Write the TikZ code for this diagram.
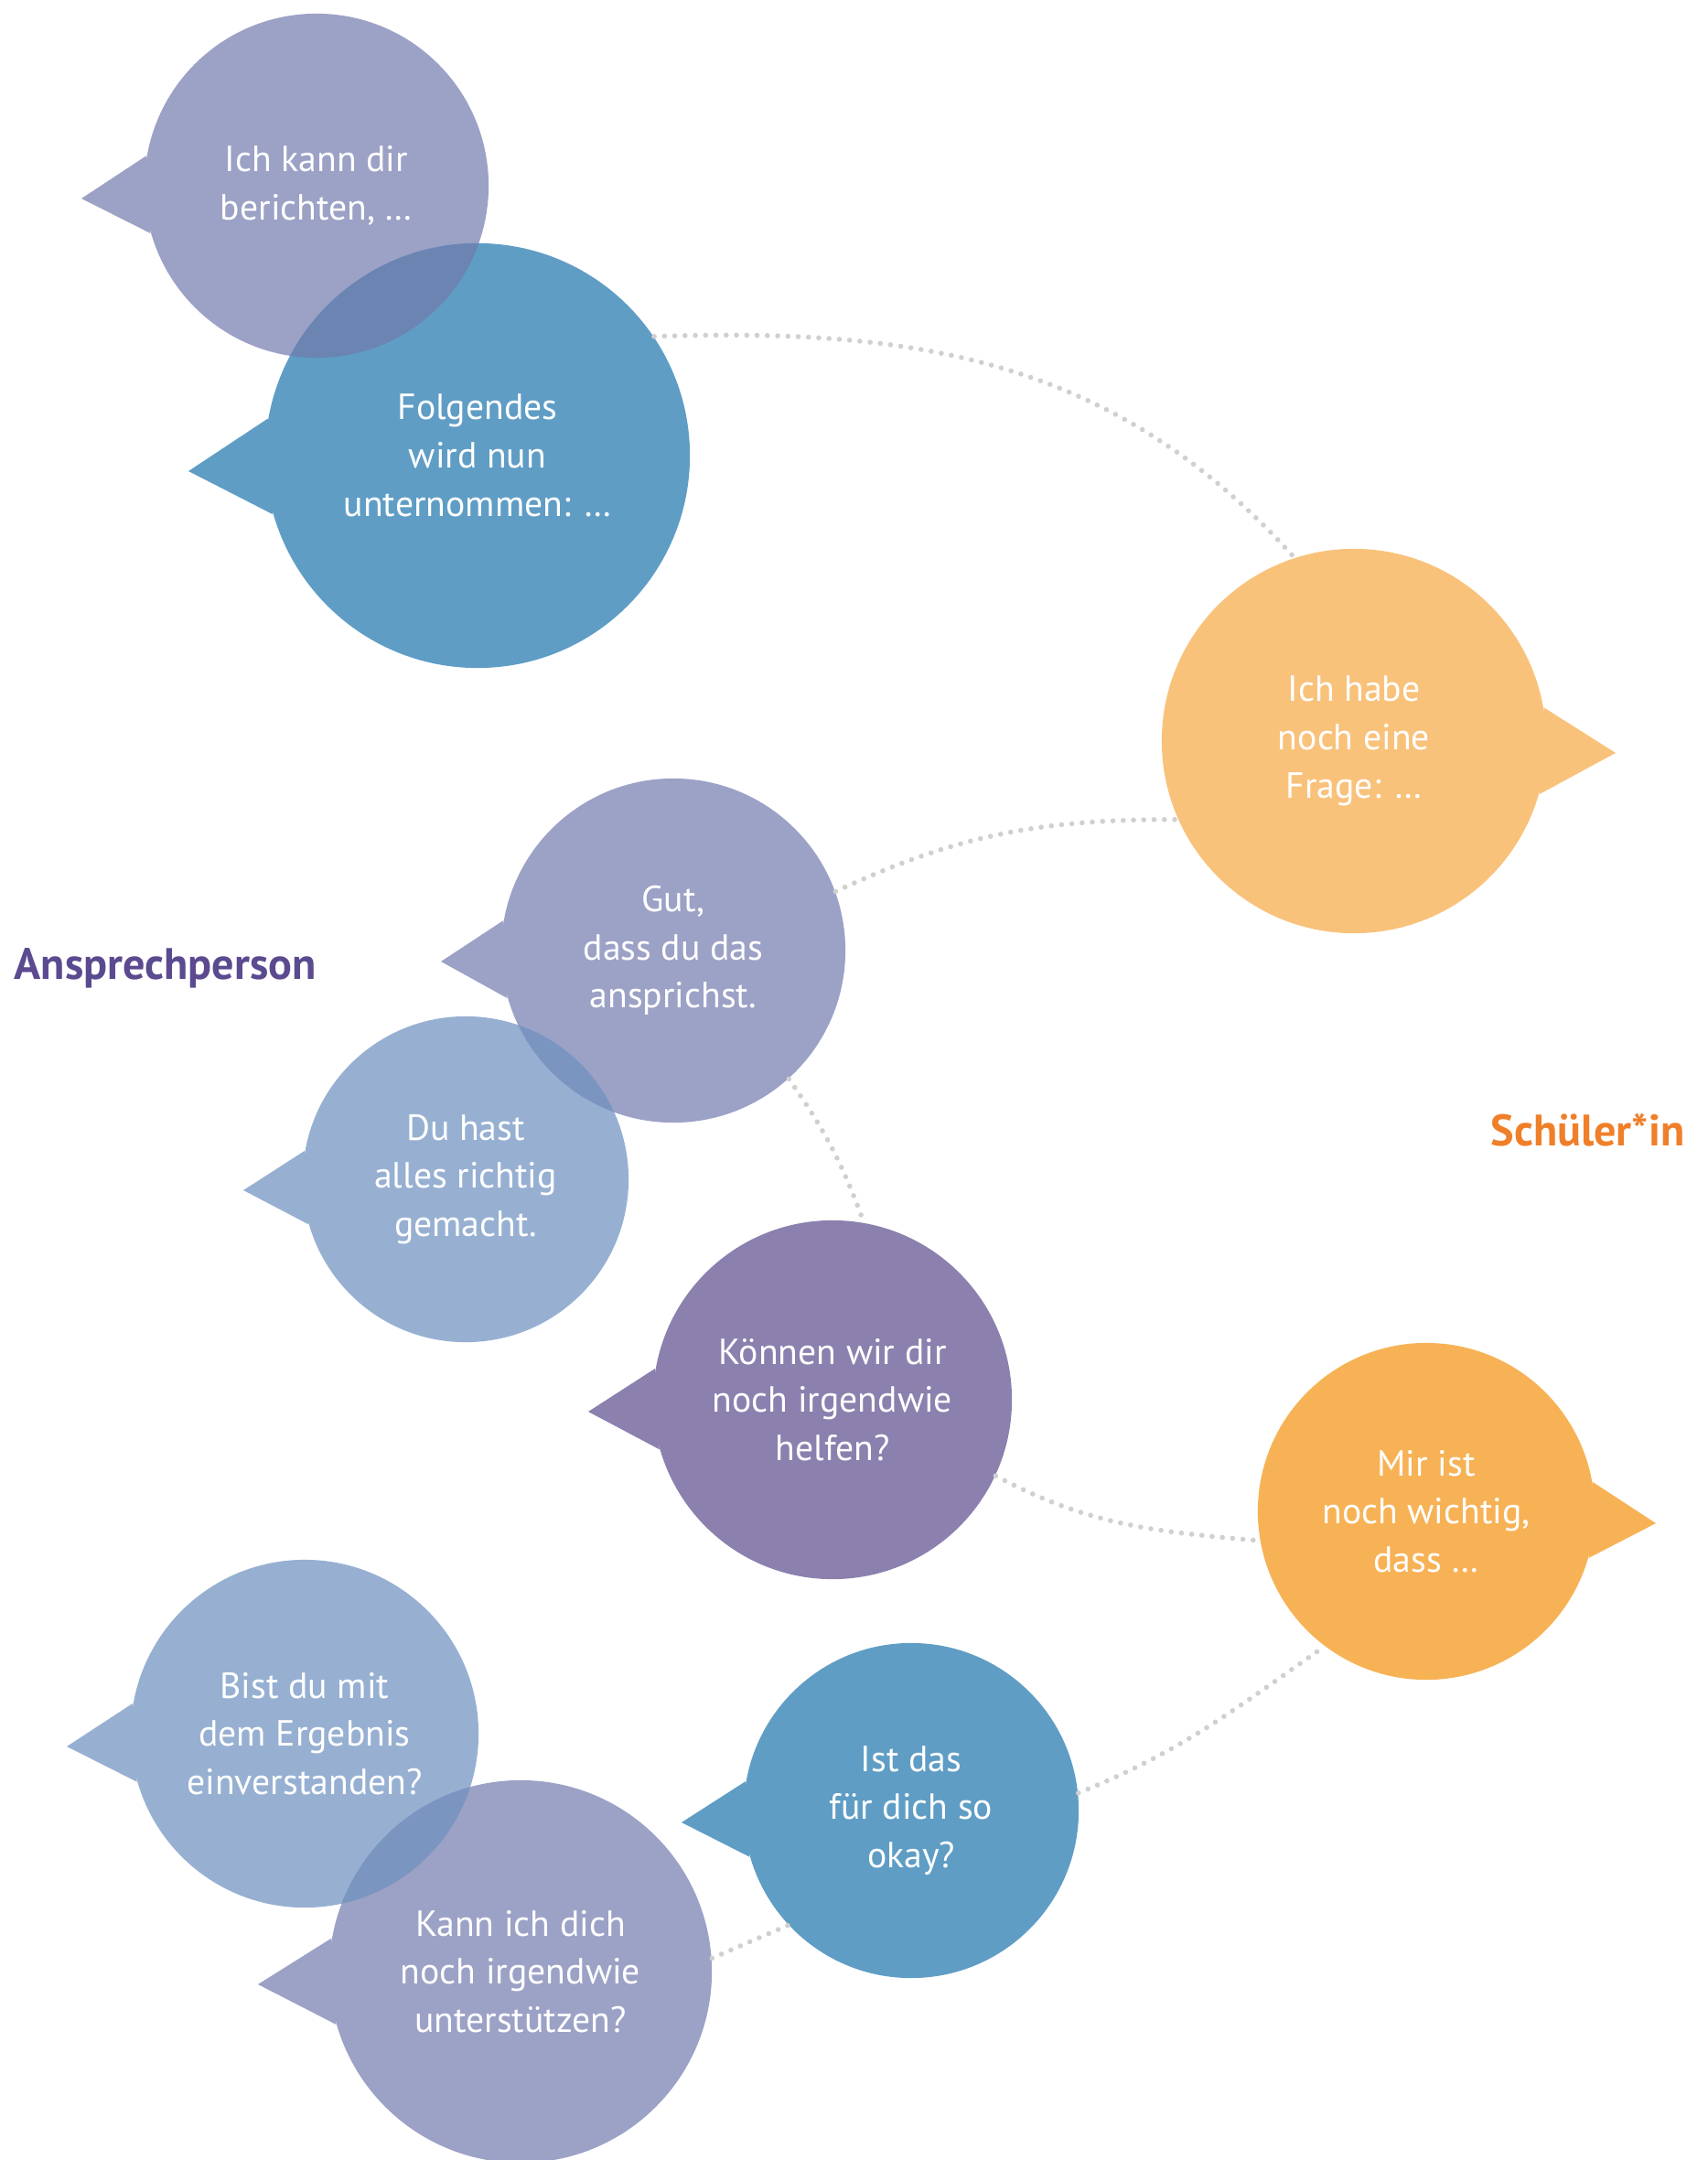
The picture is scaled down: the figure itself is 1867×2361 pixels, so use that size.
\documentclass[tikz,border=0pt]{standalone}
\usepackage{fontspec}
\setmainfont{PT Sans}
\usepackage{xcolor}
\usepackage{tikz}

\definecolor{lavendel}{HTML}{9CA1C6}
\definecolor{blau}{HTML}{5F9DC5}
\definecolor{hellblau}{HTML}{97B0D2}
\definecolor{lila}{HTML}{8B80AE}
\definecolor{hellorange}{HTML}{F9C27B}
\definecolor{orange}{HTML}{F7B256}
\definecolor{ueberA}{HTML}{6C84B2}
\definecolor{ueberB}{HTML}{7A95C0}
\definecolor{punktgrau}{HTML}{D0D0D0}
\definecolor{titellila}{HTML}{5B4A8F}
\definecolor{titelorange}{HTML}{F07F2A}

\begin{document}
\begin{tikzpicture}[x=0.01cm, y=-0.01cm,
    blase/.style={circle, inner sep=0pt, text=white, align=center,
                  font=\fontsize{11.3}{15}\selectfont},
    punkte/.style={draw=punktgrau, line width=1.6pt, line cap=round,
                   dash pattern=on 0pt off 3.2pt},
    titel/.style={anchor=base west, inner sep=0pt,
                  font=\fontsize{13.7}{16}\selectfont\bfseries}]

    \useasboundingbox (0,0) rectangle (1867,2361);

    % ==========================================
    % 1. ANSPRECHPERSON (LINKS)
    % ==========================================

    \node[blase, fill=lavendel, minimum size=3.76cm] (b1) at (346,203) {Ich kann dir\\berichten, …};
    \coordinate (t1) at (89,217);
    \fill[lavendel] (b1.170) -- (t1) -- (b1.196) -- cycle;

    \node[blase, fill=blau, minimum size=4.64cm] (b2) at (522,498) {Folgendes\\wird nun\\unternommen: …};
    \coordinate (t2) at (206,515);
    \fill[blau] (b2.170) -- (t2) -- (b2.196) -- cycle;

    % Ueberschneidung
    \begin{scope}
        \clip (b1.center) circle[radius=1.88cm];
        \fill[ueberA] (b2.center) circle[radius=2.32cm];
    \end{scope}

    \node[blase, fill=lavendel, minimum size=3.76cm] (b4) at (736,1039) {Gut,\\dass du das\\ansprichst.};
    \coordinate (t4) at (482,1051);
    \fill[lavendel] (b4.170) -- (t4) -- (b4.196) -- cycle;

    \node[blase, fill=hellblau, minimum size=3.56cm] (b5) at (509,1289) {Du hast\\alles richtig\\gemacht.};
    \coordinate (t5) at (266,1301);
    \fill[hellblau] (b5.170) -- (t5) -- (b5.196) -- cycle;

    \begin{scope}
        \clip (b4.center) circle[radius=1.88cm];
        \fill[ueberB] (b5.center) circle[radius=1.78cm];
    \end{scope}

    \node[blase, fill=lila, minimum size=3.92cm] (b6) at (910,1530) {Können wir dir\\noch irgendwie\\helfen?};
    \coordinate (t6) at (643,1543);
    \fill[lila] (b6.170) -- (t6) -- (b6.196) -- cycle;

    \node[blase, fill=hellblau, minimum size=3.8cm] (b8) at (333,1895) {Bist du mit\\dem Ergebnis\\einverstanden?};
    \coordinate (t8) at (73,1909);
    \fill[hellblau] (b8.170) -- (t8) -- (b8.196) -- cycle;

    \node[blase, fill=blau, minimum size=3.66cm] (b9) at (996,1979) {Ist das\\für dich so\\okay?};
    \coordinate (t9) at (745,1992);
    \fill[blau] (b9.170) -- (t9) -- (b9.196) -- cycle;

    \node[blase, fill=lavendel, minimum size=4.18cm] (b10) at (569,2155) {Kann ich dich\\noch irgendwie\\unterstützen?};
    \coordinate (t10) at (282,2169);
    \fill[lavendel] (b10.170) -- (t10) -- (b10.196) -- cycle;

    \begin{scope}
        \clip (b8.center) circle[radius=1.9cm];
        \fill[ueberB] (b10.center) circle[radius=2.09cm];
    \end{scope}

    \node[titel, text=titellila] (ap) at (15,1070) {Ansprechperson};

    % ==========================================
    % 2. SCHUELER*IN (RECHTS)
    % ==========================================

    \node[blase, fill=hellorange, minimum size=4.2cm] (b3) at (1480,810) {Ich habe\\noch eine\\Frage: …};
    \coordinate (t3) at (1766,823);
    \fill[hellorange] (b3.10) -- (t3) -- (b3.-16) -- cycle;

    \node[blase, fill=orange, minimum size=3.68cm] (b7) at (1559,1652) {Mir ist\\noch wichtig,\\dass …};
    \coordinate (t7) at (1810,1665);
    \fill[orange] (b7.10) -- (t7) -- (b7.-16) -- cycle;

    \node[titel, text=titelorange] (si) at (1629,1252) {Schüler*in};

    % ==========================================
    % 3. PUNKTLINIEN
    % ==========================================

    \draw[punkte] (b2.34) to[out=2, in=132] (b3.108);
    \draw[punkte] (b4.20) to[out=25, in=180] (b3.204);
    \draw[punkte] (b4.-48) to[out=-55, in=110] (b6.80);
    \draw[punkte] (b6.-25) to[out=-28, in=175] (b7.190);
    \draw[punkte] (b9.6) to[out=22, in=215] (b7.233);
    \draw[punkte] (b10.4) -- (b9.223);

\end{tikzpicture}
\end{document}
